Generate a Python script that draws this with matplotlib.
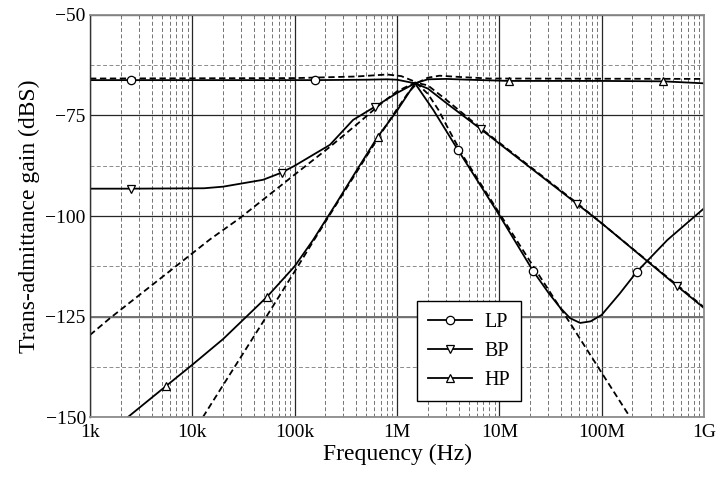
import matplotlib
matplotlib.use("Agg")
import matplotlib.pyplot as plt
from matplotlib.ticker import FixedLocator, FixedFormatter, LogLocator, MultipleLocator, NullFormatter

plt.rcParams['font.family'] = ['Liberation Serif', 'DejaVu Serif']

# ---- data (frequency in Hz, gain in dBS) ----
lp_f = [1e3, 2.5e3, 158e3, 500e3, 800e3, 1.0e6, 1.2e6, 1.5e6, 2.26e6, 3.95e6, 10e6, 21.4e6,
        30e6, 39e6, 49e6, 61.6e6, 78e6, 100e6, 150e6, 220e6, 437e6, 1e9]
lp_db = [-66.2, -66.2, -66.2, -66.1, -66.0, -66.1, -66.5, -67.0, -73.6, -83.6, -99.8, -113.7,
         -119.0, -122.7, -125.4, -126.6, -126.2, -124.6, -119.3, -113.9, -106.0, -98.1]
lp_marks = [1, 2, 9, 11, 19]

lp_ideal_f = [1e3, 100e3, 400e3, 800e3, 1.1e6, 1.5e6, 2.0e6, 2.54e6, 3.2e6, 4.45e6, 10e6,
              20e6, 49e6, 100e6, 189e6]
lp_ideal_db = [-65.8, -65.7, -65.3, -64.8, -65.2, -66.6, -69.6, -73.6, -78.5, -85.2, -99.3,
               -111.3, -126.6, -139.0, -150.0]

bp_f = [1e3, 2.5e3, 13e3, 20e3, 49e3, 74.6e3, 100e3, 221e3, 372e3, 610e3, 1.0e6, 1.5e6,
        2.0e6, 3.0e6, 6.6e6, 10e6, 57.5e6, 100e6, 545e6, 1e9]
bp_db = [-93.2, -93.2, -93.1, -92.7, -91.0, -89.2, -87.5, -82.3, -76.1, -72.8, -69.4, -67.0,
         -68.3, -71.8, -78.4, -82.0, -97.0, -101.8, -117.4, -122.9]
bp_marks = [1, 5, 9, 14, 16, 18]

bp_ideal_f = [1e3, 1.57e3, 4.84e3, 14.9e3, 29.2e3, 100e3, 221e3, 437e3, 700e3, 1.0e6, 1.5e6,
              2.0e6, 3.0e6, 6.6e6, 57.5e6, 1e9]
bp_ideal_db = [-129.6, -125.4, -115.6, -105.8, -100.5, -89.7, -82.8, -76.5, -72.0, -69.0, -66.8,
               -67.5, -71.0, -78.2, -96.8, -122.7]

hp_f = [2.35e3, 5.53e3, 10e3, 20e3, 53.7e3, 100e3, 151e3, 250e3, 400e3, 648e3, 1e6, 1.5e6,
        2.0e6, 3e6, 5e6, 12.3e6, 100e6, 398e6, 1e9]
hp_db = [-150.0, -142.3, -137.0, -130.6, -120.1, -112.5, -106.0, -97.2, -88.8, -80.3, -73.8,
         -67.0, -66.0, -65.9, -66.1, -66.4, -66.4, -66.5, -67.0]
hp_marks = [1, 4, 9, 15, 17]

hp_ideal_f = [12.7e3, 51.5e3, 100e3, 151e3, 198e3, 400e3, 683e3, 1e6, 1.3e6, 1.6e6, 2e6, 2.6e6,
              4e6, 8e6, 1e9]
hp_ideal_db = [-150.0, -125.5, -113.8, -106.4, -101.6, -89.2, -79.8, -73.4, -69.2, -66.8, -65.6,
               -65.1, -65.4, -65.8, -65.9]

x_ticks = [1e3, 1e4, 1e5, 1e6, 1e7, 1e8, 1e9]
x_labels = ["1k", "10k", "100k", "1M", "10M", "100M", "1G"]
y_ticks = [-150, -125, -100, -75, -50]
y_labels = ["\u2212150", "\u2212125", "\u2212100", "\u221275", "\u221250"]

# ---- figure ----
fig = plt.figure(figsize=(7.2, 4.79), dpi=100)
ax = fig.add_axes([0.125, 0.1294, 0.8528, 0.8393])

ax.set_xscale("log")
ax.set_xlim(1e3, 1e9)
ax.set_ylim(-150, -50)

ax.xaxis.set_major_locator(FixedLocator(x_ticks))
ax.xaxis.set_major_formatter(FixedFormatter(x_labels))
ax.xaxis.set_minor_locator(LogLocator(base=10, subs=range(2, 10), numticks=20))
ax.xaxis.set_minor_formatter(NullFormatter())
ax.yaxis.set_major_locator(FixedLocator(y_ticks))
ax.yaxis.set_major_formatter(FixedFormatter(y_labels))
ax.yaxis.set_minor_locator(MultipleLocator(12.5))

ax.grid(which="major", color="0.15", lw=0.9, ls="-")
ax.grid(which="minor", axis="x", color="0.45", lw=0.7, ls=(0, (4, 2.5)))
ax.grid(which="minor", axis="y", color="0.55", lw=0.7, ls=(0, (4, 2.5)))
ax.axhline(-125, color="0.45", lw=1.4, zorder=0.6)
ax.set_axisbelow(True)

ax.tick_params(which="both", length=0, labelsize=14, colors="black")
ax.tick_params(axis="x", pad=5)
ax.tick_params(axis="y", pad=3)

for side in ["top", "right", "bottom"]:
    ax.spines[side].set_color("0.55")
    ax.spines[side].set_linewidth(1.3)
ax.spines["left"].set_color("0.2")
ax.spines["left"].set_linewidth(1.0)

dash = (0, (3.5, 2.0))
lw = 1.3
mk = dict(markersize=6, markerfacecolor="white", markeredgecolor="black", markeredgewidth=0.9)

ax.plot(lp_ideal_f, lp_ideal_db, color="black", lw=lw, ls=dash)
ax.plot(bp_ideal_f, bp_ideal_db, color="black", lw=lw, ls=dash)
ax.plot(hp_ideal_f, hp_ideal_db, color="black", lw=lw, ls=dash)

ax.plot(lp_f, lp_db, color="black", lw=lw, marker="o", markevery=lp_marks, label="LP", **mk)
ax.plot(bp_f, bp_db, color="black", lw=lw, marker="v", markevery=bp_marks, label="BP", **mk)
ax.plot(hp_f, hp_db, color="black", lw=lw, marker="^", markevery=hp_marks, label="HP", **mk)

leg = ax.legend(loc="lower left", bbox_to_anchor=(0.5326, 0.0398), borderaxespad=0,
                fontsize=14.5, fancybox=False, framealpha=1, edgecolor="black",
                handlelength=2.2, handletextpad=0.6, labelspacing=0.5, borderpad=0.55,
                numpoints=1)
leg.get_frame().set_linewidth(1.0)

ax.set_xlabel("Frequency (Hz)", fontsize=17, labelpad=2)
ax.set_ylabel("Trans-admittance gain (dBS)", fontsize=17, labelpad=4)

fig.savefig("out.png", dpi=100)
